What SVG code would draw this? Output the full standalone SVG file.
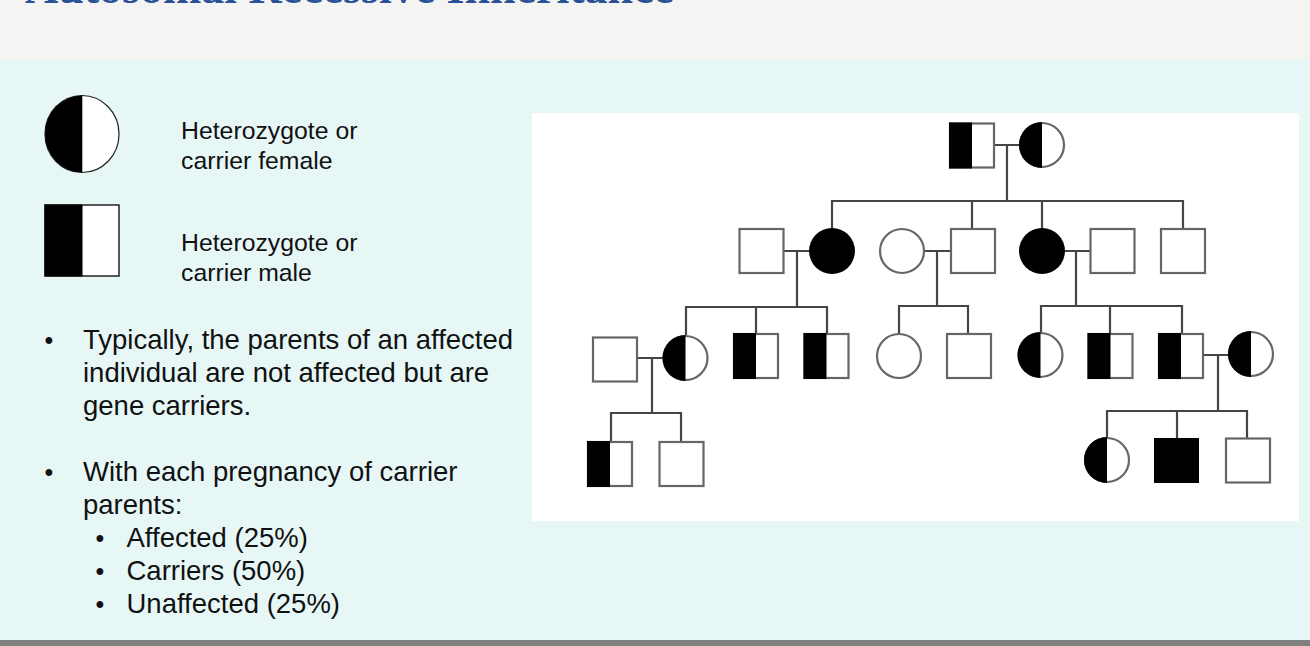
<svg xmlns="http://www.w3.org/2000/svg" width="1310" height="646" viewBox="0 0 1310 646">
<style>
.t{font-family:"Liberation Sans",Arial,sans-serif;fill:#111}
.b{font-size:27.5px}
.d{font-size:25px}
.l{font-size:24.8px}
.s{fill:#fff;stroke:#666;stroke-width:2.2}
.k{fill:#000}
.c path{stroke:#444;stroke-width:2.2;fill:none}
</style>
<defs>
<filter id="soft" filterUnits="userSpaceOnUse" x="532" y="113" width="767" height="408"><feGaussianBlur stdDeviation="0.5"/></filter>
<g id="hs"><rect class="s" x="0" y="0" width="44" height="44"/><rect class="k" x="-1" y="-1" width="23" height="46"/></g>
<g id="hc"><circle class="s" r="22"/><path class="k" d="M0-23A23 23 0 0 0 0 23Z"/></g>
</defs>
<rect width="1310" height="646" fill="#f4f4f3"/>
<rect y="60" width="1310" height="580" fill="#e6f7f6"/>
<rect y="640" width="1310" height="6" fill="#808080"/>
<text x="25" y="3" font-family="'Liberation Serif',serif" font-weight="700" font-size="46" fill="#2a5299">Autosomal Recessive Inheritance</text>
<g id="legend-female"><ellipse cx="82" cy="134" rx="37" ry="38.5" fill="#fff" stroke="#222" stroke-width="1.2"/><path class="k" d="M82.3 95.5A37.3 38.5 0 0 0 82.3 172.5Z"/></g>
<g id="legend-male"><rect x="45" y="205" width="74" height="71" fill="#fff" stroke="#222" stroke-width="1.5"/><rect class="k" x="44.5" y="204.5" width="38" height="72"/></g>
<text class="t l" x="181" y="139">Heterozygote or</text>
<text class="t l" x="181" y="169">carrier female</text>
<text class="t l" x="181" y="251">Heterozygote or</text>
<text class="t l" x="181" y="281">carrier male</text>
<g class="t b">
<text class="d" x="44.5" y="349">•</text><text x="83" y="349">Typically, the parents of an affected</text>
<text x="83" y="382">individual are not affected but are</text>
<text x="83" y="415">gene carriers.</text>
<text class="d" x="44.5" y="481">•</text><text x="83" y="481">With each pregnancy of carrier</text>
<text x="83" y="514">parents:</text>
<text class="d" x="95.5" y="547">•</text><text x="126.5" y="547">Affected (25%)</text>
<text class="d" x="95.5" y="580">•</text><text x="126.5" y="580">Carriers (50%)</text>
<text class="d" x="95.5" y="613">•</text><text x="126.5" y="613">Unaffected (25%)</text>
</g>
<rect x="532" y="113" width="767" height="408" fill="#fff"/>
<g filter="url(#soft)">
<g id="connectors" class="c">
<path d="M994 145H1020M1007 145V201M832 229V201H1183V229M972 201V229M1042 201V229"/>
<path d="M783 251H810M797 251V307M686 335V307H827V334M756 307V334"/>
<path d="M924 251H951M937 251V306M899 334V306H968V334"/>
<path d="M1064 251H1091M1076 251V306M1041 332V306H1182V334M1110 306V334"/>
<path d="M638 358H663M652 358V413M611 442V413H681V442"/>
<path d="M1203 355H1229M1218 355V411M1107 438V411H1247V438M1177 411V438"/>
</g>
<g id="g1-m"><use href="#hs" x="950" y="123.5"/></g>
<g id="g1-f"><use href="#hc" x="1042" y="145"/></g>
<g id="g2-1"><rect class="s" x="739.5" y="229" width="44" height="44"/></g>
<g id="g2-2"><circle class="k" cx="832" cy="251" r="23"/></g>
<g id="g2-3"><circle class="s" cx="902" cy="251" r="22"/></g>
<g id="g2-4"><rect class="s" x="951" y="229" width="44" height="44"/></g>
<g id="g2-5"><circle class="k" cx="1042" cy="251" r="23"/></g>
<g id="g2-6"><rect class="s" x="1090.5" y="229" width="44" height="44"/></g>
<g id="g2-7"><rect class="s" x="1161" y="229" width="44" height="44"/></g>
<g id="g3-1"><rect class="s" x="593" y="337.5" width="44" height="44"/></g>
<g id="g3-2"><use href="#hc" x="685.5" y="358"/></g>
<g id="g3-3"><use href="#hs" x="734" y="334"/></g>
<g id="g3-4"><use href="#hs" x="804.5" y="334"/></g>
<g id="g3-5"><circle class="s" cx="899" cy="356" r="22"/></g>
<g id="g3-6"><rect class="s" x="947" y="334" width="44" height="44"/></g>
<g id="g3-7"><use href="#hc" x="1040.5" y="355"/></g>
<g id="g3-8"><use href="#hs" x="1088.5" y="334"/></g>
<g id="g3-9"><use href="#hs" x="1159" y="334"/></g>
<g id="g3-10"><use href="#hc" x="1251" y="354"/></g>
<g id="g4-1"><use href="#hs" x="588" y="442"/></g>
<g id="g4-2"><rect class="s" x="659.5" y="442" width="44" height="44"/></g>
<g id="g4-3"><use href="#hc" x="1107" y="460"/></g>
<g id="g4-4"><rect x="1154" y="438" width="45" height="45" fill="#000"/></g>
<g id="g4-5"><rect class="s" x="1226" y="438.5" width="44" height="44"/></g>
</g>
</svg>
